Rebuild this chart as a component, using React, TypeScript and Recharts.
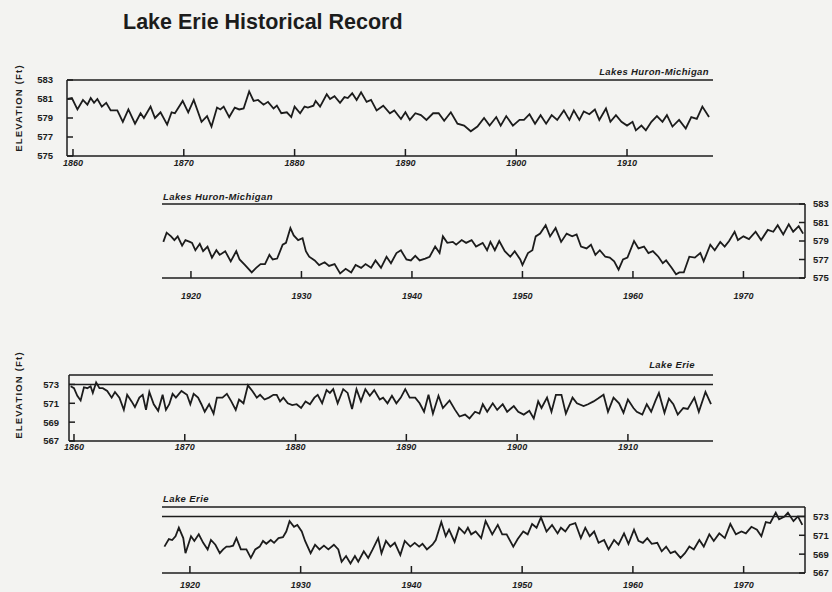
import React from 'react';
import { LineChart, Line, XAxis, YAxis, ReferenceLine } from 'recharts';

// [year, elevation in feet]
const huronEarly: [number, number][] = [
  [1859.5, 581.0], [1859.9, 581.1], [1860.4, 579.9], [1860.9, 580.9], [1861.3, 580.4], [1861.6, 581.1],
  [1861.9, 580.6], [1862.2, 581.0], [1862.6, 580.2], [1863.0, 580.6], [1863.4, 579.8], [1863.7, 579.8],
  [1864.0, 579.8], [1864.5, 578.6], [1865.0, 579.9], [1865.6, 578.4], [1866.1, 579.5], [1866.4, 579.0],
  [1867.0, 580.2], [1867.4, 579.0], [1867.9, 579.6], [1868.5, 578.3], [1868.9, 579.6], [1869.2, 579.5],
  [1869.9, 580.8], [1870.4, 579.6], [1870.9, 580.9], [1871.6, 578.6], [1872.1, 579.2], [1872.5, 578.1],
  [1873.0, 580.1], [1873.3, 579.9], [1873.6, 580.2], [1874.1, 579.1], [1874.6, 580.1], [1875.0, 579.9],
  [1875.4, 580.0], [1875.9, 581.8], [1876.3, 580.8], [1876.7, 580.9], [1877.2, 580.4], [1877.6, 580.7],
  [1878.1, 580.0], [1878.4, 580.3], [1878.8, 579.5], [1879.3, 579.6], [1879.7, 579.1], [1880.0, 580.2],
  [1880.5, 579.5], [1880.9, 580.2], [1881.2, 580.1], [1881.7, 580.3], [1881.9, 580.8], [1882.3, 580.2],
  [1882.9, 581.5], [1883.2, 581.0], [1883.6, 581.3], [1884.1, 580.6], [1884.5, 581.2], [1884.8, 581.1],
  [1885.2, 581.6], [1885.6, 580.9], [1886.0, 581.7], [1886.5, 580.7], [1886.9, 580.9], [1887.4, 579.8],
  [1888.0, 580.3], [1888.6, 579.5], [1889.0, 579.8], [1889.6, 578.9], [1890.0, 579.6], [1890.4, 578.8],
  [1890.9, 579.5], [1891.4, 579.3], [1891.9, 578.8], [1892.5, 579.5], [1893.0, 579.5], [1893.5, 578.7],
  [1894.1, 579.6], [1894.7, 578.4], [1895.3, 578.2], [1895.9, 577.6], [1896.5, 578.1], [1897.1, 579.0],
  [1897.6, 578.2], [1898.2, 579.1], [1898.6, 578.2], [1899.1, 579.2], [1899.7, 578.2], [1900.3, 578.8],
  [1900.7, 578.8], [1901.2, 579.4], [1901.7, 578.4], [1902.2, 579.3], [1902.7, 578.4], [1903.2, 579.3],
  [1903.7, 578.8], [1904.3, 579.8], [1904.8, 578.8], [1905.2, 579.8], [1905.7, 578.8], [1906.1, 579.7],
  [1906.6, 579.4], [1907.1, 579.9], [1907.5, 578.8], [1908.1, 580.0], [1908.5, 578.6], [1909.0, 579.3],
  [1909.5, 578.6], [1910.0, 578.2], [1910.5, 578.6], [1910.8, 577.7], [1911.3, 578.2], [1911.7, 577.7],
  [1912.2, 578.6], [1912.7, 579.2], [1913.2, 578.6], [1913.6, 579.3], [1914.1, 578.1], [1914.7, 578.8],
  [1915.3, 577.9], [1915.8, 579.1], [1916.3, 578.9], [1916.8, 580.2], [1917.4, 579.1],
];

const huronLate: [number, number][] = [
  [1917.5, 578.9], [1917.8, 579.9], [1918.2, 579.5], [1918.5, 579.1], [1918.8, 579.5], [1919.2, 578.5],
  [1919.5, 579.1], [1919.9, 578.9], [1920.1, 578.8], [1920.4, 578.0], [1920.8, 578.7], [1921.1, 577.9],
  [1921.5, 578.4], [1921.9, 577.2], [1922.3, 578.0], [1922.6, 577.5], [1923.1, 577.9], [1923.6, 576.8],
  [1924.1, 577.9], [1924.4, 577.0], [1924.9, 576.4], [1925.5, 575.6], [1925.9, 576.1], [1926.3, 576.5],
  [1926.7, 576.5], [1927.1, 577.5], [1927.4, 577.0], [1927.8, 577.1], [1928.3, 578.6], [1928.6, 578.8],
  [1929.0, 580.4], [1929.3, 579.6], [1929.7, 579.1], [1930.1, 579.3], [1930.4, 577.9], [1930.7, 577.3],
  [1931.2, 576.9], [1931.6, 576.4], [1932.1, 576.7], [1932.5, 576.3], [1933.0, 576.5], [1933.5, 575.5],
  [1934.0, 576.0], [1934.5, 575.6], [1934.9, 576.4], [1935.4, 576.1], [1935.8, 576.5], [1936.3, 576.1],
  [1936.7, 576.9], [1937.2, 576.1], [1937.7, 577.3], [1938.1, 576.6], [1938.6, 577.7], [1939.0, 578.0],
  [1939.5, 577.0], [1939.9, 576.9], [1940.3, 577.4], [1940.7, 576.9], [1941.2, 577.1], [1941.6, 577.3],
  [1942.1, 578.4], [1942.5, 577.7], [1942.8, 579.5], [1943.2, 578.8], [1943.7, 578.9], [1944.0, 578.6],
  [1944.5, 579.1], [1944.9, 578.8], [1945.4, 579.1], [1945.8, 578.4], [1946.4, 578.8], [1946.8, 578.0],
  [1947.1, 578.9], [1947.5, 578.0], [1947.9, 579.0], [1948.4, 577.9], [1948.9, 577.3], [1949.3, 577.9],
  [1949.8, 577.0], [1950.0, 576.4], [1950.5, 577.7], [1950.9, 578.0], [1951.2, 579.5], [1951.6, 579.8],
  [1952.1, 580.7], [1952.5, 579.5], [1953.0, 580.4], [1953.5, 578.9], [1954.0, 579.8], [1954.5, 579.5],
  [1954.9, 579.7], [1955.3, 578.4], [1955.8, 578.2], [1956.2, 578.6], [1956.6, 577.5], [1957.0, 578.0],
  [1957.5, 577.3], [1957.9, 577.2], [1958.3, 576.8], [1958.7, 575.9], [1959.1, 577.0], [1959.5, 577.2],
  [1960.1, 579.0], [1960.5, 578.2], [1961.0, 578.4], [1961.4, 577.7], [1961.8, 577.9], [1962.3, 577.3],
  [1962.7, 576.6], [1963.0, 576.9], [1963.5, 576.1], [1963.9, 575.4], [1964.2, 575.6], [1964.6, 575.6],
  [1965.1, 577.3], [1965.6, 577.2], [1966.1, 577.7], [1966.4, 576.8], [1967.0, 578.6], [1967.4, 578.0],
  [1967.9, 578.9], [1968.3, 578.4], [1968.7, 579.0], [1969.2, 580.0], [1969.5, 579.1], [1970.0, 579.5],
  [1970.5, 579.2], [1971.1, 580.0], [1971.6, 579.1], [1972.2, 580.2], [1972.7, 580.0], [1973.1, 580.7],
  [1973.6, 579.7], [1974.1, 580.8], [1974.5, 580.0], [1975.0, 580.6], [1975.4, 579.8],
];

const erieEarly: [number, number][] = [
  [1859.7, 572.8], [1860.0, 572.6], [1860.3, 571.8], [1860.6, 571.3], [1860.9, 572.7], [1861.2, 572.6],
  [1861.5, 572.8], [1861.7, 572.1], [1862.0, 573.2], [1862.3, 572.6], [1862.6, 572.6], [1863.0, 572.3],
  [1863.4, 571.6], [1863.7, 572.2], [1864.1, 571.6], [1864.5, 570.3], [1864.8, 571.9], [1865.2, 571.2],
  [1865.5, 570.6], [1865.9, 571.6], [1866.2, 571.9], [1866.5, 570.3], [1866.8, 572.2], [1867.2, 570.9],
  [1867.6, 570.2], [1868.0, 571.9], [1868.3, 570.3], [1868.6, 570.9], [1868.9, 572.0], [1869.2, 571.6],
  [1869.7, 572.3], [1870.2, 571.9], [1870.5, 570.9], [1870.8, 572.0], [1871.2, 571.6], [1871.5, 570.9],
  [1871.8, 570.1], [1872.2, 570.9], [1872.6, 569.9], [1872.9, 571.6], [1873.4, 571.6], [1873.8, 572.0],
  [1874.2, 571.2], [1874.6, 570.3], [1874.9, 571.4], [1875.3, 571.0], [1875.7, 572.9], [1876.1, 572.3],
  [1876.5, 571.6], [1876.8, 571.9], [1877.2, 571.4], [1877.6, 571.6], [1878.0, 571.9], [1878.3, 571.9],
  [1878.6, 571.2], [1878.9, 571.6], [1879.3, 571.0], [1879.7, 570.8], [1880.1, 570.9], [1880.5, 570.5],
  [1880.9, 571.2], [1881.3, 570.9], [1881.7, 571.6], [1882.0, 571.9], [1882.4, 571.0], [1882.8, 572.4],
  [1883.1, 572.1], [1883.4, 572.5], [1883.8, 571.0], [1884.3, 572.5], [1884.7, 572.1], [1885.1, 570.4],
  [1885.5, 572.5], [1885.9, 571.2], [1886.3, 572.5], [1886.7, 571.8], [1887.1, 572.4], [1887.6, 571.4],
  [1887.9, 571.6], [1888.3, 571.0], [1888.7, 571.8], [1889.1, 571.0], [1889.5, 571.6], [1889.9, 572.5],
  [1890.3, 571.6], [1890.8, 571.6], [1891.2, 571.0], [1891.6, 570.1], [1892.0, 571.9], [1892.4, 569.9],
  [1892.9, 571.8], [1893.3, 570.5], [1893.9, 571.3], [1894.4, 570.3], [1894.8, 569.6], [1895.3, 569.8],
  [1895.7, 569.4], [1896.2, 570.1], [1896.6, 569.9], [1896.9, 570.9], [1897.3, 570.1], [1897.8, 571.0],
  [1898.2, 570.3], [1898.7, 570.9], [1899.1, 570.1], [1899.7, 570.7], [1900.1, 570.1], [1900.6, 569.8],
  [1901.1, 570.2], [1901.5, 569.4], [1901.9, 571.2], [1902.2, 570.5], [1902.7, 571.6], [1903.1, 570.1],
  [1903.5, 571.9], [1904.0, 571.9], [1904.4, 569.9], [1905.0, 571.6], [1905.4, 571.0], [1906.0, 570.7],
  [1906.4, 570.9], [1906.9, 571.2], [1907.3, 571.5], [1907.8, 571.9], [1908.2, 570.1], [1908.7, 571.6],
  [1909.2, 571.0], [1909.6, 570.0], [1910.0, 571.4], [1910.5, 570.5], [1910.8, 570.1], [1911.3, 569.8],
  [1911.7, 570.9], [1912.1, 570.1], [1912.5, 571.3], [1912.8, 572.1], [1913.3, 570.0], [1913.7, 571.5],
  [1914.1, 570.9], [1914.5, 569.8], [1915.0, 570.5], [1915.4, 570.4], [1916.0, 571.6], [1916.4, 570.1],
  [1917.0, 572.2], [1917.5, 570.9],
];

const erieLate: [number, number][] = [
  [1917.7, 569.8], [1918.1, 570.6], [1918.4, 570.5], [1918.7, 570.9], [1919.0, 571.8], [1919.4, 570.7],
  [1919.6, 569.1], [1920.1, 570.9], [1920.4, 570.4], [1920.8, 571.1], [1921.2, 570.2], [1921.6, 569.5],
  [1921.9, 570.5], [1922.3, 570.0], [1922.7, 569.1], [1923.0, 569.5], [1923.3, 569.8], [1923.6, 569.8],
  [1923.9, 569.9], [1924.2, 570.7], [1924.6, 569.5], [1925.1, 569.5], [1925.5, 568.6], [1925.9, 569.5],
  [1926.3, 569.8], [1926.6, 570.4], [1926.9, 570.1], [1927.3, 570.5], [1927.6, 570.2], [1928.0, 570.7],
  [1928.4, 570.8], [1928.7, 571.4], [1929.0, 572.5], [1929.4, 571.9], [1929.7, 572.1], [1930.1, 571.4],
  [1930.4, 570.4], [1930.9, 569.1], [1931.3, 570.0], [1931.7, 569.5], [1932.1, 569.9], [1932.5, 569.5],
  [1933.0, 570.0], [1933.4, 569.5], [1933.7, 568.2], [1934.1, 568.8], [1934.5, 568.0], [1934.9, 568.8],
  [1935.2, 568.2], [1935.7, 569.3], [1936.1, 568.6], [1936.5, 569.5], [1937.0, 570.7], [1937.3, 569.1],
  [1937.7, 570.4], [1938.1, 569.8], [1938.5, 570.2], [1939.0, 568.9], [1939.4, 570.4], [1939.9, 569.8],
  [1940.3, 570.2], [1940.7, 569.8], [1941.0, 570.1], [1941.4, 569.5], [1941.9, 570.0], [1942.2, 570.5],
  [1942.7, 572.4], [1943.1, 570.9], [1943.4, 571.6], [1943.9, 570.3], [1944.3, 571.8], [1944.8, 571.2],
  [1945.1, 571.8], [1945.4, 571.1], [1945.8, 571.4], [1946.3, 570.7], [1946.7, 572.5], [1947.3, 571.1],
  [1947.8, 572.1], [1948.2, 571.1], [1948.6, 571.1], [1949.2, 569.8], [1949.6, 570.6], [1950.1, 571.4],
  [1950.5, 571.1], [1950.9, 572.2], [1951.3, 571.8], [1951.7, 572.9], [1952.2, 571.4], [1952.7, 572.1],
  [1953.2, 571.2], [1953.5, 571.8], [1953.9, 571.4], [1954.3, 572.1], [1954.8, 572.3], [1955.3, 570.7],
  [1955.7, 571.8], [1956.1, 570.9], [1956.5, 571.4], [1956.9, 570.2], [1957.4, 570.5], [1957.8, 569.5],
  [1958.3, 570.5], [1958.7, 570.0], [1959.2, 571.2], [1959.6, 570.1], [1960.1, 571.6], [1960.5, 570.4],
  [1960.9, 570.2], [1961.3, 570.7], [1961.7, 570.1], [1962.2, 570.2], [1962.6, 569.3], [1963.0, 569.8],
  [1963.4, 569.1], [1963.8, 569.3], [1964.3, 568.6], [1964.7, 569.1], [1965.1, 569.8], [1965.5, 569.5],
  [1966.0, 570.5], [1966.4, 569.8], [1966.9, 571.1], [1967.3, 570.4], [1967.8, 571.2], [1968.3, 570.7],
  [1968.8, 572.2], [1969.3, 571.1], [1969.8, 571.4], [1970.2, 571.2], [1970.7, 571.9], [1971.2, 571.6],
  [1971.6, 570.9], [1972.0, 572.4], [1972.4, 572.3], [1972.9, 573.4], [1973.2, 572.7], [1973.7, 573.0],
  [1974.0, 573.4], [1974.5, 572.5], [1974.9, 573.0], [1975.3, 572.1],
];

const earlyYearTicks = [1860, 1870, 1880, 1890, 1900, 1910];
const lateYearTicks = [1920, 1930, 1940, 1950, 1960, 1970];
const huronTicks = [575, 577, 579, 581, 583];
const erieTicks = [567, 569, 571, 573];

const INK = '#1c1c1c';
const BG = '#f3f3f1';

const toRows = (pts: [number, number][]) => pts.map(([year, level]) => ({ year, level }));

const xTick = { fontSize: 9, fontWeight: 700, fontStyle: 'italic', fill: INK };
const yTick = { fontSize: 9.5, fontWeight: 700, fill: INK };

type PanelProps = {
  data: [number, number][];
  left: number;
  top: number;
  width: number;
  height: number;
  margin: { top: number; right: number; bottom: number; left: number };
  xDomain: [number, number];
  xTicks: number[];
  xHeight: number;
  xTickMargin: number;
  yDomain: [number, number];
  yTicks: number[];
  yRight?: boolean;
  yWidth: number;
  yTickMargin: number;
  refs: number[];
};

const Panel = (p: PanelProps) => (
  <div style={{ position: 'absolute', left: p.left, top: p.top }}>
    <LineChart width={p.width} height={p.height} data={toRows(p.data)} margin={p.margin}>
      <XAxis
        type="number"
        dataKey="year"
        domain={p.xDomain}
        ticks={p.xTicks}
        allowDataOverflow
        height={p.xHeight}
        tickSize={-7}
        tickMargin={p.xTickMargin}
        tick={xTick}
        stroke={INK}
        strokeWidth={1.5}
      />
      <YAxis
        type="number"
        domain={p.yDomain}
        ticks={p.yTicks}
        allowDataOverflow
        orientation={p.yRight ? 'right' : 'left'}
        width={p.yWidth}
        tickSize={-6}
        tickMargin={p.yTickMargin}
        tick={yTick}
        stroke={INK}
        strokeWidth={1.5}
      />
      {p.refs.map((r) => (
        <ReferenceLine key={r} y={r} stroke={INK} strokeWidth={1.5} />
      ))}
      <Line
        type="linear"
        dataKey="level"
        stroke={INK}
        strokeWidth={1.8}
        dot={false}
        isAnimationActive={false}
      />
    </LineChart>
  </div>
);

const panelTitle = { fontSize: 9.5, fontWeight: 700, fontStyle: 'italic', letterSpacing: 0.4, fill: INK } as const;
const elevLabel = { fontSize: 9.5, fontWeight: 700, letterSpacing: 1.2, fill: INK } as const;

export default function App() {
  return (
    <div
      style={{
        position: 'absolute',
        left: 0,
        top: 0,
        width: 832,
        height: 592,
        overflow: 'hidden',
        background: BG,
        fontFamily: '"Liberation Sans", Arial, sans-serif',
      }}
    >
      <Panel
        data={huronEarly}
        left={0}
        top={50}
        width={832}
        height={130}
        margin={{ top: 30, right: 119, bottom: 4, left: 7 }}
        xDomain={[1859.46, 1917.76]}
        xTicks={earlyYearTicks}
        xHeight={20}
        xTickMargin={11}
        yDomain={[575, 583]}
        yTicks={huronTicks}
        yWidth={60}
        yTickMargin={20}
        refs={[583]}
      />
      <Panel
        data={huronLate}
        left={100}
        top={180}
        width={732}
        height={130}
        margin={{ top: 24, right: 0, bottom: 8, left: 62 }}
        xDomain={[1917.38, 1975.57]}
        xTicks={lateYearTicks}
        xHeight={24}
        xTickMargin={22}
        yDomain={[575, 583]}
        yTicks={huronTicks}
        yRight
        yWidth={27}
        yTickMargin={14}
        refs={[583]}
      />
      <Panel
        data={erieEarly}
        left={0}
        top={350}
        width={832}
        height={120}
        margin={{ top: 25, right: 119, bottom: 9, left: 9 }}
        xDomain={[1859.55, 1917.68]}
        xTicks={earlyYearTicks}
        xHeight={20}
        xTickMargin={10}
        yDomain={[567, 574]}
        yTicks={erieTicks}
        yWidth={60}
        yTickMargin={16}
        refs={[574, 573]}
      />
      <Panel
        data={erieLate}
        left={100}
        top={480}
        width={732}
        height={112}
        margin={{ top: 27, right: 0, bottom: 0, left: 62 }}
        xDomain={[1917.48, 1975.54]}
        xTicks={lateYearTicks}
        xHeight={19}
        xTickMargin={16}
        yDomain={[567, 574]}
        yTicks={erieTicks}
        yRight
        yWidth={27}
        yTickMargin={14}
        refs={[574, 573]}
      />
      <svg
        width={832}
        height={592}
        style={{ position: 'absolute', left: 0, top: 0, pointerEvents: 'none' }}
      >
        <text x={123} y={29} fontSize={21.5} fontWeight={700} fill={INK}>
          Lake Erie Historical Record
        </text>
        <text x={709} y={75} textAnchor="end" {...panelTitle}>
          Lakes Huron-Michigan
        </text>
        <text x={163} y={200} {...panelTitle}>
          Lakes Huron-Michigan
        </text>
        <text x={695} y={368} textAnchor="end" {...panelTitle}>
          Lake Erie
        </text>
        <text x={163} y={502} {...panelTitle}>
          Lake Erie
        </text>
        <text transform="translate(22,108) rotate(-90)" textAnchor="middle" {...elevLabel}>
          ELEVATION (Ft)
        </text>
        <text transform="translate(22,395) rotate(-90)" textAnchor="middle" {...elevLabel}>
          ELEVATION (Ft)
        </text>
      </svg>
    </div>
  );
}
